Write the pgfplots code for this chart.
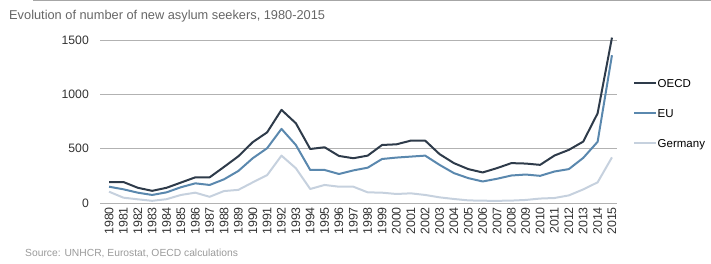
\documentclass[border=0pt]{standalone}
\usepackage{pgfplots}
\pgfplotsset{compat=1.18}
\usepackage{pgfplotstable}
\usepackage{fontspec}
\setmainfont{Liberation Sans}
\definecolor{oecd}{HTML}{2E3B4A}
\definecolor{eu}{HTML}{5A88AE}
\definecolor{ger}{HTML}{C6D1DE}
\definecolor{titlegray}{HTML}{666666}
\definecolor{srcgray}{HTML}{9A9A9A}
\definecolor{tickgray}{HTML}{333333}
\pgfplotstableread{
year oecd eu ger
1980 193 150 104
1981 193 126 49
1982 140 95 34
1983 112 74 20
1984 140 98 35
1985 188 145 74
1986 236 181 95
1987 236 166 57
1988 332 218 110
1989 430 295 121
1990 560 412 190
1991 650 504 256
1992 857 682 436
1993 734 534 320
1994 497 304 129
1995 513 304 166
1996 433 267 150
1997 412 300 150
1998 436 325 98
1999 534 405 95
2000 540 418 83
2001 574 427 89
2002 574 436 74
2003 450 351 52
2004 367 275 37
2005 312 229 24
2006 281 198 21
2007 321 223 20
2008 367 253 22
2009 363 262 28
2010 351 250 41
2011 437 290 46
2012 489 312 70
2013 565 415 125
2014 825 563 190
2015 1522 1360 420
}\datatable
\begin{document}
\begin{tikzpicture}
\path[use as bounding box] (0,0) rectangle (711bp,264bp);
\draw[gray!70, line width=1bp] (33bp,263.5bp) -- (711bp,263.5bp);
\node[anchor=base west, inner sep=0pt, text=titlegray, font=\fontsize{12.8bp}{14bp}\selectfont] at (9bp,244bp) {Evolution of number of new asylum seekers, 1980-2015};
\node[anchor=base west, inner sep=0pt, text=srcgray, font=\fontsize{10.3bp}{12bp}\selectfont] at (25bp,8bp) {Source: UNHCR, Eurostat, OECD calculations};
\begin{axis}[
  at={(100bp,61bp)}, anchor=south west,
  scale only axis, width=517bp, height=168.43bp,
  xmin=1979.37, xmax=2015.35, ymin=0, ymax=1550,
  axis line style={draw=none},
  ytick={0,500,1000,1500},
  xtick={1980,...,2015},
  ymajorgrids, major grid style={gray!60, line width=0.7bp},
  major tick length=0pt,
  /pgf/number format/assume math mode=true,
  /pgf/number format/1000 sep={},
  x tick label style={rotate=90, anchor=east, font=\fontsize{12.4bp}{13bp}\selectfont, text=tickgray, inner sep=0pt, xshift=0bp},
  y tick label style={font=\fontsize{12.2bp}{13bp}\selectfont, text=tickgray, inner sep=0pt},
  xticklabel shift=4bp, yticklabel shift=11bp,
  clip=false,
  legend cell align=left,
  legend style={at={(axis description cs:1.031,0.739)}, anchor=north west, draw=none, fill=none,
    font=\fontsize{11.5bp}{13bp}\selectfont, inner sep=0pt, row sep=21bp,
    nodes={inner sep=0.5bp, text depth=0pt}},
  legend image code/.code={\draw[#1] (0bp,0bp) -- (22bp,0bp);},
]
\addplot[oecd, line width=2bp, line join=round] table[x=year, y=oecd] {\datatable};
\addlegendentry{OECD}
\addplot[eu, line width=2bp, line join=round] table[x=year, y=eu] {\datatable};
\addlegendentry{EU}
\addplot[ger, line width=2bp, line join=round] table[x=year, y=ger] {\datatable};
\addlegendentry{Germany}
\end{axis}
\end{tikzpicture}
\end{document}
